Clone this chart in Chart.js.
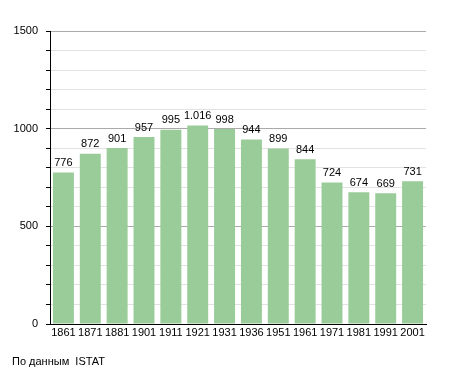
<!DOCTYPE html>
<html><head><meta charset="utf-8">
<script src="https://cdn.jsdelivr.net/npm/chart.js@4.4.0/dist/chart.umd.min.js"></script>
<style>
html,body{margin:0;padding:0;background:#fff;}
#wrap{position:relative;width:455px;height:373px;}
#src{position:absolute;left:12px;top:355px;font:11px "Liberation Sans",Arial,sans-serif;color:#000;}
</style></head>
<body><div id="wrap"><canvas id="c" width="455" height="373"></canvas><div id="src">По данным&nbsp; ISTAT</div></div>
<script>
const years = ['1861','1871','1881','1901','1911','1921','1931','1936','1951','1961','1971','1981','1991','2001'];
const population = [776,872,901,957,995,1016,998,944,899,844,724,674,669,731];
const yTicks = [0,500,1000,1500];

function fmt(v){return String(v).replace(/\B(?=(\d{3})+(?!\d))/g,'.');}

const labelPlugin = {
  id:'vals',
  afterDatasetsDraw(chart){
    const ctx = chart.ctx;
    const meta = chart.getDatasetMeta(0);
    ctx.save();
    ctx.font = '11px "Liberation Sans", Arial, sans-serif';
    ctx.fillStyle = '#000';
    ctx.textAlign = 'center';
    ctx.textBaseline = 'bottom';
    meta.data.forEach((bar,i)=>{
      ctx.fillText(fmt(population[i]), bar.x, bar.y - 4);
    });
    ctx.restore();
  }
};

new Chart(document.getElementById('c'),{
  type:'bar',
  data:{labels:years,datasets:[{data:population,backgroundColor:'#99cc99',borderColor:'#8fc28f',borderWidth:0,barPercentage:0.78,categoryPercentage:1}]},
  options:{
    responsive:false,animation:false,
    layout:{padding:{top:31,right:29,bottom:29,left:0}},
    plugins:{legend:{display:false},tooltip:{enabled:false}},
    scales:{
      x:{
        grid:{display:false,drawTicks:false},
        border:{display:true,color:'#000',width:1},
        ticks:{color:'#000',font:{family:'"Liberation Sans", Arial, sans-serif',size:11},padding:2,maxRotation:0,autoSkip:false},
        afterFit(s){s.height=20;}
      },
      y:{
        min:0,max:1500,
        grid:{
          color(c){return c.tick && c.tick.value%500===0 ? '#aaaaaa' : '#e2e2e2';},
          tickColor:'#000',tickLength:4,drawTicks:true
        },
        border:{display:true,color:'#000',width:1},
        ticks:{stepSize:100,color:'#000',font:{family:'"Liberation Sans", Arial, sans-serif',size:11},padding:8,
          callback(v){return yTicks.includes(v)?String(v):'';}},
        afterFit(s){s.width=50;}
      }
    }
  },
  plugins:[labelPlugin]
});
</script></body></html>
